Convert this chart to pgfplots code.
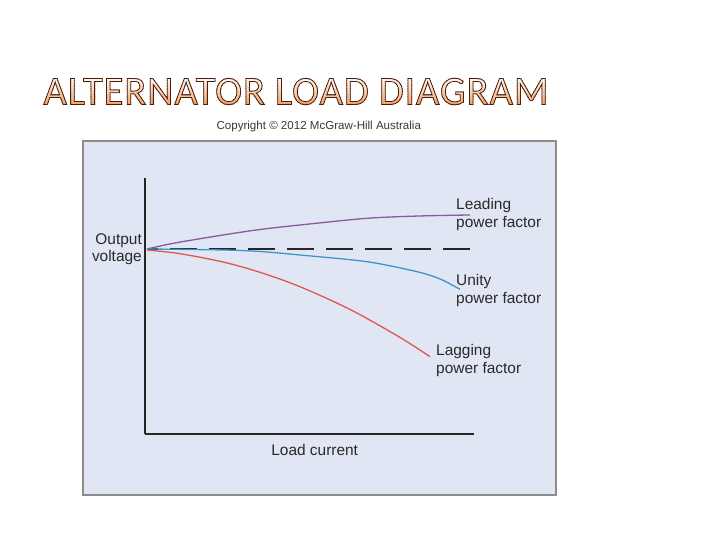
\documentclass[border=0pt]{standalone}
\usepackage{fontspec}
\setmainfont{Liberation Sans}
\newfontfamily\titlefont[LetterSpace=2.6]{Carlito}
\usepackage{pgfplots}
\pgfplotsset{compat=1.18}
\definecolor{boxfill}{HTML}{E1E6F4}
\definecolor{boxedge}{HTML}{8C8C8C}
\definecolor{leadc}{HTML}{8A5A9C}
\definecolor{unityc}{HTML}{3D95C8}
\definecolor{lagc}{HTML}{E0584C}
\definecolor{titletop}{HTML}{FEF6EE}
\definecolor{titlebot}{HTML}{F09A52}
\definecolor{txt}{HTML}{2A2A2A}
\newcommand{\lbl}{\fontsize{15.5}{17.6}\selectfont}
\newcommand{\titletext}{ALTERNATOR LOAD DIAGRAM}
\begin{document}
\begin{tikzpicture}[x=1bp,y=1bp]
\fill[white] (0,0) rectangle (720,540);
% title: outlined letters with a vertical gradient (banded)
\foreach \i in {0,...,11} {
  \pgfmathsetmacro\ya{432+2.7*\i}
  \pgfmathsetmacro\yb{432+2.7*(\i+1)+0.4}
  \pgfmathtruncatemacro\pct{100*(1-\i/11)^1.2}
  \begin{scope}
    \clip (0,\ya) rectangle (720,\yb);
    \node[anchor=base, inner sep=0] at (296,435.5) {\titlefont\fontsize{40.5}{42}\selectfont\color{titlebot!\pct!titletop}\special{pdf:literal direct 2 Tr 0.8 w 0.30 0.11 0.06 RG}\titletext\special{pdf:literal direct 0 Tr}};
  \end{scope}
}
\node[anchor=base, inner sep=0, text=black!78, font=\fontsize{11.6}{13}\selectfont] at (318.8,410) {Copyright \textcopyright{} 2012 McGraw-Hill Australia};
% figure box
\draw[boxedge, line width=2bp, fill=boxfill] (82.5,44.5) rectangle (555.5,398.5);
\begin{axis}[
  at={(145bp,106bp)}, anchor=south west,
  scale only axis, width=329bp, height=256bp,
  xmin=0, xmax=100, ymin=0, ymax=100,
  enlargelimits=false,
  axis x line=bottom, axis y line=left,
  axis line style={-, line width=1.4bp, black!85},
  xtick=\empty, ytick=\empty,
  clip=false,
]
% no-load reference (dashed)
\addplot[black!85, line width=1.4bp, dash pattern=on 27bp off 12bp, dash phase=16bp] coordinates {(0.61,72.27) (98.78,72.27)};
% leading power factor
\addplot[leadc, line width=1.3bp, smooth] coordinates {
(0.61,72.27) (9.12,74.61) (23.71,77.73) (34.95,79.88) (47.11,81.64) (67.48,84.26) (83.59,85.16) (98.78,85.55)};
% unity power factor
\addplot[unityc, line width=1.3bp, smooth] coordinates {
(0.61,72.27) (23.71,71.88) (34.95,71.29) (47.11,69.92) (67.48,67.30) (82.67,63.40) (89.67,60.55) (95.74,56.52)};
% lagging power factor
\addplot[lagc, line width=1.3bp, smooth] coordinates {
(0.61,71.88) (10.64,70.43) (23.71,67.19) (34.95,63.16) (47.11,57.54) (62.31,48.67) (77.51,37.73) (86.63,30.20)};
\end{axis}
\begin{scope}[every node/.style={inner sep=0, font=\lbl, text=txt}]
\node[anchor=base west] at (456,330) {Leading};
\node[anchor=base west] at (456,312.5) {power factor};
\node[anchor=base west] at (456,254.3) {Unity};
\node[anchor=base west] at (456,236.7) {power factor};
\node[anchor=base west] at (436,184.3) {Lagging};
\node[anchor=base west] at (436,166.7) {power factor};
\node[anchor=base east] at (142,295) {Output};
\node[anchor=base east] at (142,278) {voltage};
\node[anchor=base] at (314.7,84) {Load current};
\end{scope}
\end{tikzpicture}
\end{document}
